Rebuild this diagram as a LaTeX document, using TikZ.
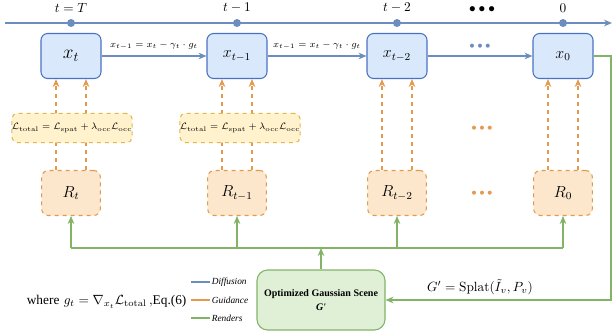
\documentclass[tikz,border=0pt]{standalone}
\usepackage{amsmath}
\usepackage{amssymb}
\usepackage{fontspec}
\newfontfamily\timesfont{Liberation Serif}
\usetikzlibrary{arrows.meta,positioning}
\definecolor{diffline}{HTML}{6C8EBF}
\definecolor{diffdraw}{HTML}{4A72C2}
\definecolor{difffill}{HTML}{DAE8FC}
\definecolor{guideline}{HTML}{E39A4F}
\definecolor{guidefill}{HTML}{FCE6CC}
\definecolor{lossdraw}{HTML}{E0B84E}
\definecolor{lossfill}{HTML}{FFF2CC}
\definecolor{renderline}{HTML}{82B366}
\definecolor{renderfill}{HTML}{DFF0D6}

\begin{document}
\begin{tikzpicture}
[x=0.75pt,y=-0.75pt,
state/.style={rectangle,rounded corners=5pt,draw=diffdraw,fill=difffill,thick,
minimum width=45pt,minimum height=33.75pt,inner sep=0pt},
render/.style={rectangle,rounded corners=5pt,draw=guideline,fill=guidefill,thick,dashed,
minimum width=44pt,minimum height=33.75pt,inner sep=0pt},
loss/.style={rectangle,rounded corners=4pt,draw=lossdraw,fill=lossfill,thick,dashed,
minimum width=89pt,minimum height=22pt,inner sep=0pt,font=\scriptsize},
scene/.style={rectangle,rounded corners=8pt,draw=renderline,fill=renderfill,thick,
minimum width=96pt,minimum height=45pt,inner sep=0pt,align=center,
font=\timesfont\bfseries\fontsize{7.5}{9}\selectfont},
tick/.style={circle,fill=diffline,inner sep=0pt,minimum size=6pt},
diff/.style={draw=diffline,thick,-{Stealth[length=6pt,width=5pt]}},
guide/.style={draw=guideline,thick,dashed,-{Stealth[length=6pt,width=5pt]}},
rend/.style={draw=renderline,thick,-{Stealth[length=6pt,width=5pt]}},
legend/.style={font=\timesfont\itshape\scriptsize,anchor=west,inner sep=1pt}]
\useasboundingbox (0,0) rectangle (615,333);
% time axis
\coordinate (axisL) at (5,23);
\coordinate (axisR) at (612,23);
\draw [diff] (axisL) -- (axisR);
\node at ( 71,23) [tick] (tT){};
\node at (237,23) [tick] (t1){};
\node at (397,23) [tick] (t2){};
\node at (563,23) [tick] (t0){};
\node [above=1pt of tT] {$t=T$};
\node [above=1pt of t1] {$t-1$};
\node [above=1pt of t2] {$t-2$};
\node at (482,10) {$\bullet\bullet\bullet$};
\node [above=1pt of t0] {$0$};
% latent states
\node at ( 71,56) [state] (xT){\Large $x_t$};
\node at (237,56) [state] (x1){\large $x_{t-1}$};
\node at (397,56) [state] (x2){\large $x_{t-2}$};
\node at (563,56) [state] (x0){\large $x_0$};
\draw [diff] (xT) -- node [above=1pt,font=\scriptsize] {$x_{t-1}=x_t-\gamma_t\cdot g_t$} (x1);
\draw [diff] (x1) -- node [above=1pt,font=\scriptsize] {$x_{t-1}=x_t-\gamma_t\cdot g_t$} (x2);
\draw [diff] (x2) -- node [above=2pt,text=diffline,font=\scriptsize] {$\bullet\bullet\bullet$} (x0);
% renders
\node at ( 71,193) [render] (rT){\large $R_t$};
\node at (237,193) [render] (r1){\large $R_{t-1}$};
\node at (397,193) [render] (r2){\large $R_{t-2}$};
\node at (563,193) [render] (r0){\large $R_0$};
\node at (482,193) [text=guideline,font=\scriptsize] {$\bullet\bullet\bullet$};
\node at (482,128) [text=guideline,font=\scriptsize] {$\bullet\bullet\bullet$};
% guidance from renders to states
\foreach \r/\x in {rT/xT,r1/x1,r2/x2,r0/x0} {
  \draw [guide] ([xshift=-11.25pt]\r.north) -- ([xshift=-11.25pt]\x.south);
  \draw [guide] ([xshift=11.25pt]\r.north) -- ([xshift=11.25pt]\x.south);
}
\node at ( 72,128) [loss] (lossT){$\mathcal{L}_{\text{total}}=\mathcal{L}_{\text{spat}}+\lambda_{\text{occ}}\mathcal{L}_{\text{occ}}$};
\node at (240,128) [loss] (loss1){$\mathcal{L}_{\text{total}}=\mathcal{L}_{\text{spat}}+\lambda_{\text{occ}}\mathcal{L}_{\text{occ}}$};
% gaussian scene and render bus
\node at (321,300) [scene] (gs){Optimized Gaussian Scene\\[1pt]\itshape G'};
\coordinate (busT) at ( 71,248);
\coordinate (bus0) at (563,248);
\coordinate (busG) at (gs.north |- busT);
\draw [draw=renderline,thick] (busT) -- (bus0);
\draw [rend] (gs.north) -- (busG);
\foreach \r in {rT,r1,r2,r0}
  \draw [rend] (\r.south |- busT) -- (\r.south);
\coordinate (loopA) at (611,56);
\coordinate (loopB) at (611,300);
\draw [rend] (x0.east) -- (loopA) -- (loopB) -- (gs.east);
\node at (480,287) (splat){$G'=\mathrm{Splat}(\tilde{I}_v,P_v)$};
% legend
\coordinate (lgA) at (191,282);
\coordinate (lgB) at (191,300);
\coordinate (lgC) at (191,318);
\draw [draw=diffline,thick] (lgA) -- ++(19,0) node [legend] {Diffusion};
\draw [draw=guideline,thick] (lgB) -- ++(19,0) node [legend] {Guidance};
\draw [draw=renderline,thick] (lgC) -- ++(19,0) node [legend] {Renders};
\node at (188,302) [anchor=east,inner sep=1pt] (where){{\timesfont where} $g_t=\nabla_{x_t}\mathcal{L}_{\text{total}}$\,,{\timesfont Eq.(6)}};
\end{tikzpicture}
\end{document}
